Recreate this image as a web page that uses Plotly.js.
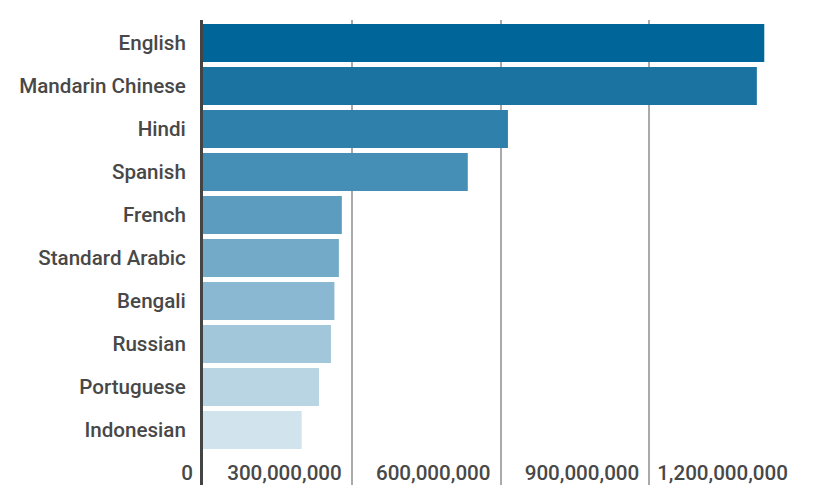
<!DOCTYPE html>
<html>
<head>
<meta charset="utf-8">
<script src="https://cdn.plot.ly/plotly-3.0.1.min.js"></script>
<style>html,body{margin:0;padding:0;background:#fff;}#chart{width:840px;height:502px;}</style>
</head>
<body>
<div id="chart"></div>
<script>
const languages = ["English","Mandarin Chinese","Hindi","Spanish","French","Standard Arabic","Bengali","Russian","Portuguese","Indonesian"];
const speakers = [1132000000,1117000000,615000000,534000000,280000000,274000000,265000000,258000000,234000000,199000000];
const barColors = ["#006699","#1a73a1","#2f81ab","#458fb6","#5c9dbf","#72aac8","#8ab8d3","#a2c7da","#b9d5e4","#d1e3ed"];
const tickValues = [0,300000000,600000000,900000000,1200000000];
const tickLabels = ["0","300,000,000","600,000,000","900,000,000","1,200,000,000"];

const trace = {
  type: "bar",
  orientation: "h",
  x: speakers,
  y: languages,
  marker: {color: barColors, line: {width: 0}},
  hoverinfo: "x+y"
};

const layout = {
  width: 840, height: 502,
  margin: {l: 203, r: 42, t: 20, b: 17, pad: 0},
  paper_bgcolor: "#fff", plot_bgcolor: "#fff",
  showlegend: false,
  bargap: 0.12,
  font: {family: "Roboto, 'Open Sans', sans-serif", color: "#484848", size: 20.6, weight: 500},
  xaxis: {
    range: [0, 1200000000],
    tickmode: "array", tickvals: tickValues, ticktext: tickLabels,
    ticklabelposition: "inside left",
    ticklabeloverflow: "allow",
    ticklabelshift: -10,
    ticklabelstandoff: -5,
    showgrid: true, gridcolor: "#aaaaaa", gridwidth: 2,
    zeroline: false, showline: false, ticks: "",
    tickfont: {size: 20.6, color: "#484848", weight: 500},
    fixedrange: true
  },
  yaxis: {
    type: "category",
    range: [10.28, -0.535],
    showgrid: false, zeroline: false,
    showline: true, linecolor: "#444444", linewidth: 3,
    ticks: "", ticklabelstandoff: 10,
    tickfont: {size: 20.6, color: "#484848", weight: 500},
    fixedrange: true
  }
};

Plotly.newPlot("chart", [trace], layout, {displayModeBar: false, staticPlot: true});
</script>
</body>
</html>
